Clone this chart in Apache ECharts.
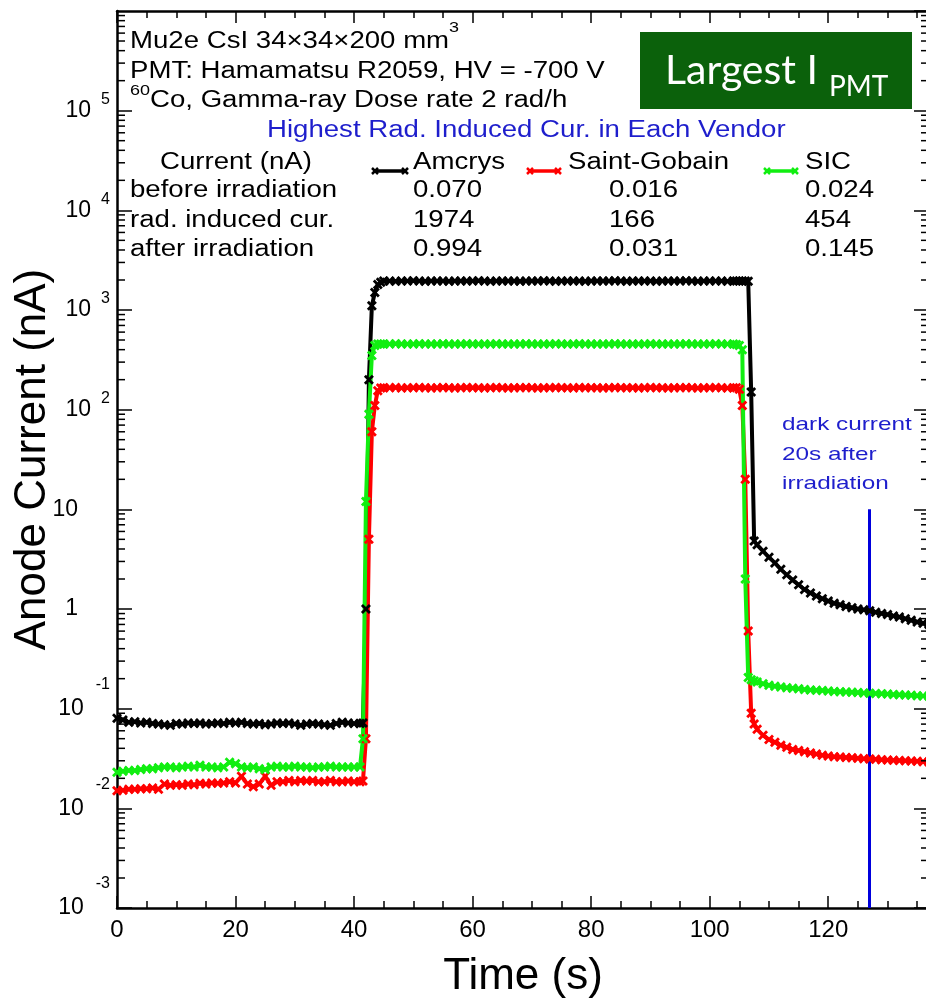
<!DOCTYPE html>
<html>
<head>
<meta charset="utf-8">
<script src="https://cdn.jsdelivr.net/npm/echarts@6/dist/echarts.min.js"></script>
<style>
    html, body {margin: 0; padding: 0; background: #fff;}
    #chart {width: 926px; height: 1004px;}
</style>
</head>
<body>
<div id="chart"></div>
<script>
// time axis (s)
var times = [0, 1, 2, 3, 4, 5, 6, 7, 8, 9,
    10, 11, 12, 13, 14, 15, 16, 17, 18, 19,
    20, 21, 22, 23, 24, 25, 26, 27, 28, 29,
    30, 31, 32, 33, 34, 35, 36, 37, 38, 39,
    40, 41, 41.5, 42, 42.5, 43, 43.5, 44, 44.5, 45,
    46, 47, 48, 49, 50, 51, 52, 53, 54, 55,
    56, 57, 58, 59, 60, 61, 62, 63, 64, 65,
    66, 67, 68, 69, 70, 71, 72, 73, 74, 75,
    76, 77, 78, 79, 80, 81, 82, 83, 84, 85,
    86, 87, 88, 89, 90, 91, 92, 93, 94, 95,
    96, 97, 98, 99, 100, 101, 102, 103, 104, 104.5,
    105, 105.5, 106, 106.5, 107, 107.5, 108, 109, 110, 111,
    112, 113, 114, 115, 116, 117, 118, 119, 120, 121,
    122, 123, 124, 125, 126, 127, 128, 129, 130, 131,
    132, 133, 134, 135, 136, 137];

// anode current (nA), one value per time
var amcrys = [0.080, 0.077, 0.073, 0.074, 0.072, 0.073, 0.071, 0.070, 0.069, 0.068,
    0.071, 0.070, 0.072, 0.071, 0.072, 0.070, 0.071, 0.072, 0.071, 0.073,
    0.072, 0.073, 0.071, 0.070, 0.071, 0.069, 0.070, 0.072, 0.071, 0.072,
    0.070, 0.068, 0.070, 0.071, 0.070, 0.069, 0.068, 0.071, 0.073, 0.072,
    0.071, 0.071, 0.072, 1.0, 200, 1100, 1500, 1800, 1900, 1950,
    1950, 1945, 1955, 1950, 1960, 1950, 1945, 1950, 1955, 1950,
    1945, 1950, 1955, 1950, 1950, 1960, 1950, 1945, 1950, 1955,
    1950, 1950, 1945, 1955, 1950, 1950, 1960, 1950, 1945, 1950,
    1955, 1950, 1950, 1945, 1950, 1955, 1950, 1950, 1960, 1950,
    1945, 1950, 1955, 1950, 1950, 1945, 1950, 1955, 1950, 1950,
    1960, 1950, 1945, 1950, 1955, 1950, 1950, 1945, 1950, 1955,
    1950, 1955, 1950, 1940, 150, 4.8, 4.4, 3.8, 3.3, 2.9,
    2.5, 2.2, 1.95, 1.75, 1.57, 1.45, 1.35, 1.27, 1.2, 1.14,
    1.1, 1.06, 1.03, 1.0, 0.98, 0.96, 0.93, 0.9, 0.88, 0.85,
    0.83, 0.8, 0.77, 0.74, 0.72, 0.7];

var saintGobain = [0.0150, 0.0152, 0.0155, 0.0155, 0.0157, 0.0157, 0.0160, 0.0155, 0.0175, 0.0170,
    0.0172, 0.0170, 0.0175, 0.0172, 0.0178, 0.0175, 0.0180, 0.0178, 0.0180, 0.0185,
    0.0180, 0.0210, 0.0175, 0.0165, 0.0175, 0.0210, 0.0170, 0.0185, 0.0185, 0.0190,
    0.0185, 0.0190, 0.0188, 0.0190, 0.0185, 0.0185, 0.0190, 0.0185, 0.0185, 0.0188,
    0.0185, 0.0185, 0.0188, 0.05, 5, 60, 110, 155, 165, 166,
    166, 167, 165, 166, 166, 167, 166, 165, 166, 167,
    166, 165, 166, 167, 166, 166, 165, 166, 167, 166,
    165, 166, 166, 167, 166, 165, 166, 166, 167, 166,
    166, 165, 167, 166, 166, 166, 165, 166, 167, 166,
    166, 166, 165, 166, 167, 166, 166, 165, 166, 166,
    167, 166, 165, 166, 166, 167, 166, 165, 166, 166,
    160, 110, 20, 0.6, 0.09, 0.07, 0.062, 0.054, 0.049, 0.046,
    0.043, 0.041, 0.039, 0.038, 0.037, 0.036, 0.035, 0.034, 0.0335, 0.033,
    0.0327, 0.0324, 0.0321, 0.0318, 0.0315, 0.0312, 0.031, 0.0308, 0.0306, 0.0304,
    0.0302, 0.030, 0.0298, 0.0296, 0.0294, 0.0292];

var sic = [0.0230, 0.0235, 0.0240, 0.0240, 0.0245, 0.0250, 0.0250, 0.0255, 0.0260, 0.0260,
    0.0255, 0.0260, 0.0265, 0.0260, 0.0270, 0.0260, 0.0260, 0.0255, 0.0260, 0.0290,
    0.0280, 0.0260, 0.0255, 0.0260, 0.0250, 0.0245, 0.0260, 0.0265, 0.0260, 0.0260,
    0.0265, 0.0260, 0.0260, 0.0255, 0.0260, 0.0260, 0.0265, 0.0260, 0.0260, 0.0260,
    0.026, 0.026, 0.05, 12, 90, 350, 440, 455, 457, 457,
    457, 458, 456, 457, 457, 458, 457, 456, 457, 458,
    457, 456, 457, 458, 457, 457, 456, 457, 458, 457,
    456, 457, 457, 458, 457, 456, 457, 457, 458, 457,
    457, 456, 458, 457, 457, 457, 456, 457, 458, 457,
    457, 457, 456, 457, 458, 457, 457, 456, 457, 457,
    458, 457, 456, 457, 457, 458, 457, 456, 455, 450,
    440, 400, 2, 0.205, 0.195, 0.19, 0.185, 0.178, 0.172, 0.168,
    0.165, 0.162, 0.16, 0.158, 0.156, 0.154, 0.153, 0.152, 0.150, 0.149,
    0.148, 0.147, 0.146, 0.145, 0.144, 0.143, 0.142, 0.141, 0.140, 0.139,
    0.138, 0.137, 0.136, 0.135, 0.134, 0.133];

var vendorNames = ['Amcrys', 'Saint-Gobain', 'SIC'];
var vendorColors = ['#000000', '#ff0000', '#11ee11'];
var rowLabels = ['before irradiation', 'rad. induced cur.', 'after irradiation'];
var tableValues = [['0.070', '1974', '0.994'], ['0.016', '166', '0.031'], ['0.024', '454', '0.145']];
var darkCurrentTime = 127;
var darkLineTop = 10;

var xMin = 0, xMax = 137;
var yMin = 0.001, yMax = 1e6;
var logDecades = [-3, -2, -1, 0, 1, 2, 3, 4, 5];
var mantissas = [2, 3, 4, 5, 6, 7, 8, 9];

var FONT = '"Liberation Sans", Arial, sans-serif';
var BLUE = '#1e1ecc';

function pairs(vals) {
    return times.map(function (t, i) { return [t, vals[i]]; });
}

var minorTicks = [];
logDecades.forEach(function (d) {
    mantissas.forEach(function (m) { minorTicks.push([xMin, m * Math.pow(10, d)]); });
});

function logLabel(v) {
    var e = Math.round(Math.log(v) / Math.LN10);
    if (e === 0) return '{b|1}{pad| }';
    if (e === 1) return '{b|10}{pad| }';
    if (e < 0) return '{bn|10}{en|' + e + '}';
    return '{bp|10}{ep|' + e + '}';
}

function renderMinorTicks(params, api) {
    var v = api.value(1);
    var l = api.coord([xMin, v]);
    var r = api.coord([xMax, v]);
    var st = {stroke: '#000', lineWidth: 1.5};
    return {
        type: 'group',
        children: [
            {type: 'line', shape: {x1: l[0], y1: l[1], x2: l[0] + 8, y2: l[1]}, style: st},
            {type: 'line', shape: {x1: r[0] - 8, y1: r[1], x2: r[0], y2: r[1]}, style: st}
        ]
    };
}

// annotation text (the plot text is a bit wide, so stretch it)
function note(x, y, text, color, size, sx, rich) {
    return {
        type: 'text', x: x, y: y, scaleX: sx || 1.2, z: 100,
        style: {
            text: text, fill: color || '#000', fontSize: size || 23, fontFamily: FONT,
            verticalAlign: 'middle', align: 'left', rich: rich
        }
    };
}

function legendIcon(x1, x2, y, color) {
    var st = {stroke: color, lineWidth: 2.5};
    var kids = [{type: 'line', shape: {x1: x1, y1: y, x2: x2, y2: y}, style: {stroke: color, lineWidth: 3.5}}];
    [x1 + 2, x2 - 2].forEach(function (cx) {
        kids.push({type: 'line', shape: {x1: cx - 3, y1: y - 3, x2: cx + 3, y2: y + 3}, style: st});
        kids.push({type: 'line', shape: {x1: cx - 3, y1: y + 3, x2: cx + 3, y2: y - 3}, style: st});
    });
    return {type: 'group', z: 100, children: kids};
}

var graphics = [
    note(130, 42, '{n|Mu2e CsI 34×34×200 mm}{s|3}', '#000', 23, 1.2, {
        n: {fontSize: 23, lineHeight: 44, fontFamily: FONT},
        s: {fontSize: 15, lineHeight: 16, verticalAlign: 'top', fontFamily: FONT}
    }),
    note(130, 72, 'PMT: Hamamatsu R2059, HV = -700 V'),
    note(130, 101, '{s|60}{n|Co, Gamma-ray Dose rate 2 rad/h}', '#000', 23, 1.2, {
        n: {fontSize: 23, lineHeight: 36, fontFamily: FONT},
        s: {fontSize: 15, lineHeight: 16, verticalAlign: 'top', fontFamily: FONT}
    }),
    note(267, 131, 'Highest Rad. Induced Cur. in Each Vendor', BLUE),
    note(160, 163, 'Current (nA)'),
    note(782, 425, 'dark current', BLUE, 19, 1.28),
    note(782, 455, '20s after', BLUE, 19, 1.28),
    note(782, 484, 'irradiation', BLUE, 19, 1.28),
    {
        type: 'rect', z: 100,
        shape: {x: 640, y: 32, width: 272, height: 77},
        style: {fill: '#0b610b'}
    },
    {
        type: 'text', x: 665, y: 71, z: 101,
        style: {text: 'Largest I', fill: '#fff', fontSize: 41, fontFamily: 'Lato, "Open Sans", sans-serif', verticalAlign: 'middle'}
    },
    {
        type: 'text', x: 829, y: 87, z: 101,
        style: {text: 'PMT', fill: '#fff', fontSize: 28, fontFamily: 'Lato, "Open Sans", sans-serif', verticalAlign: 'middle'}
    }
];
var rowY = [191, 221, 250];
rowLabels.forEach(function (r, i) { graphics.push(note(130, rowY[i], r)); });
var nameX = [413, 568, 805];
var colX = [413, 609, 805];
var iconX = [[373, 407], [528, 560], [765, 797]];
vendorNames.forEach(function (name, j) {
    graphics.push(legendIcon(iconX[j][0], iconX[j][1], 171, vendorColors[j]));
    graphics.push(note(nameX[j], 163, name));
    tableValues[j].forEach(function (v, i) { graphics.push(note(colX[j], rowY[i], v)); });
});

var xSymbol = 'path://M0,2L2,0L5,3L8,0L10,2L7,5L10,8L8,10L5,7L2,10L0,8L3,5Z';

function vendorSeries(name, vals, color) {
    return {
        name: name,
        type: 'line',
        xAxisIndex: 0,
        yAxisIndex: 0,
        data: pairs(vals),
        symbol: xSymbol,
        symbolSize: 10,
        lineStyle: {color: color, width: 4},
        itemStyle: {color: color, borderWidth: 0},
        z: 5
    };
}

var series = [
    vendorSeries(vendorNames[0], amcrys, vendorColors[0]),
    vendorSeries(vendorNames[1], saintGobain, vendorColors[1]),
    vendorSeries(vendorNames[2], sic, vendorColors[2]),
    {
        type: 'custom',
        xAxisIndex: 0,
        yAxisIndex: 0,
        silent: true,
        renderItem: renderMinorTicks,
        encode: {x: 0, y: 1},
        data: minorTicks,
        z: 10
    }
];
series[0].markLine = {
    silent: true,
    symbol: ['none', 'none'],
    label: {show: false},
    lineStyle: {color: '#0000dd', width: 3, type: 'solid'},
    data: [[{coord: [darkCurrentTime, darkLineTop]}, {coord: [darkCurrentTime, yMin]}]]
};

function xAxisCfg(pos, interval, len, main) {
    return {
        type: 'value', position: pos, min: xMin, max: xMax, interval: interval,
        axisLine: {show: main, onZero: false, lineStyle: {color: '#000', width: 2.5}},
        axisTick: {show: true, inside: true, length: len, lineStyle: {color: '#000', width: 1.5}},
        axisLabel: {show: false},
        splitLine: {show: false}
    };
}

var xBottom = xAxisCfg('bottom', 20, 12, true);
xBottom.name = 'Time (s)';
xBottom.nameLocation = 'middle';
xBottom.nameGap = 47;
xBottom.nameTextStyle = {fontSize: 44, fontFamily: FONT, color: '#000'};
xBottom.axisLabel = {show: true, fontSize: 24, fontFamily: FONT, color: '#000', margin: 10, showMaxLabel: false};

var yRich = {
    b: {fontSize: 23, lineHeight: 24, fontFamily: FONT, color: '#000'},
    pad: {width: 32},
    bp: {fontSize: 23, lineHeight: 38, fontFamily: FONT, color: '#000'},
    ep: {fontSize: 16, lineHeight: 18, verticalAlign: 'top', padding: [0, 0, 0, 10], fontFamily: FONT, color: '#000'},
    bn: {fontSize: 23, lineHeight: 64, fontFamily: FONT, color: '#000'},
    en: {fontSize: 16, lineHeight: 18, verticalAlign: 'top', padding: [0, 0, 0, 12], fontFamily: FONT, color: '#000'}
};

function yAxisCfg(pos) {
    return {
        type: 'log', logBase: 10, position: pos, min: yMin, max: yMax,
        axisLine: {show: true, onZero: false, lineStyle: {color: '#000', width: 2.5}},
        axisTick: {show: true, inside: true, length: 15, lineStyle: {color: '#000', width: 1.5}},
        axisLabel: {show: false},
        splitLine: {show: false},
        minorTick: {show: false}
    };
}

var yLeft = yAxisCfg('left');
yLeft.name = 'Anode Current (nA)';
yLeft.nameLocation = 'middle';
yLeft.nameGap = 62;
yLeft.nameMoveOverlap = false;
yLeft.nameTextStyle = {fontSize: 44, fontFamily: FONT, color: '#000'};
yLeft.axisLabel = {show: true, margin: 7, formatter: logLabel, rich: yRich, showMaxLabel: false};

var chart = echarts.init(document.getElementById('chart'));
chart.setOption({
    animation: false,
    backgroundColor: '#fff',
    grid: {left: 117, top: 11, width: 812, height: 897, outerBoundsMode: 'none', containLabel: false},
    xAxis: [xBottom, xAxisCfg('bottom', 5, 7, false), xAxisCfg('top', 20, 12, true), xAxisCfg('top', 5, 7, false)],
    yAxis: [yLeft, yAxisCfg('right')],
    series: series,
    graphic: graphics
});
</script>
</body>
</html>
